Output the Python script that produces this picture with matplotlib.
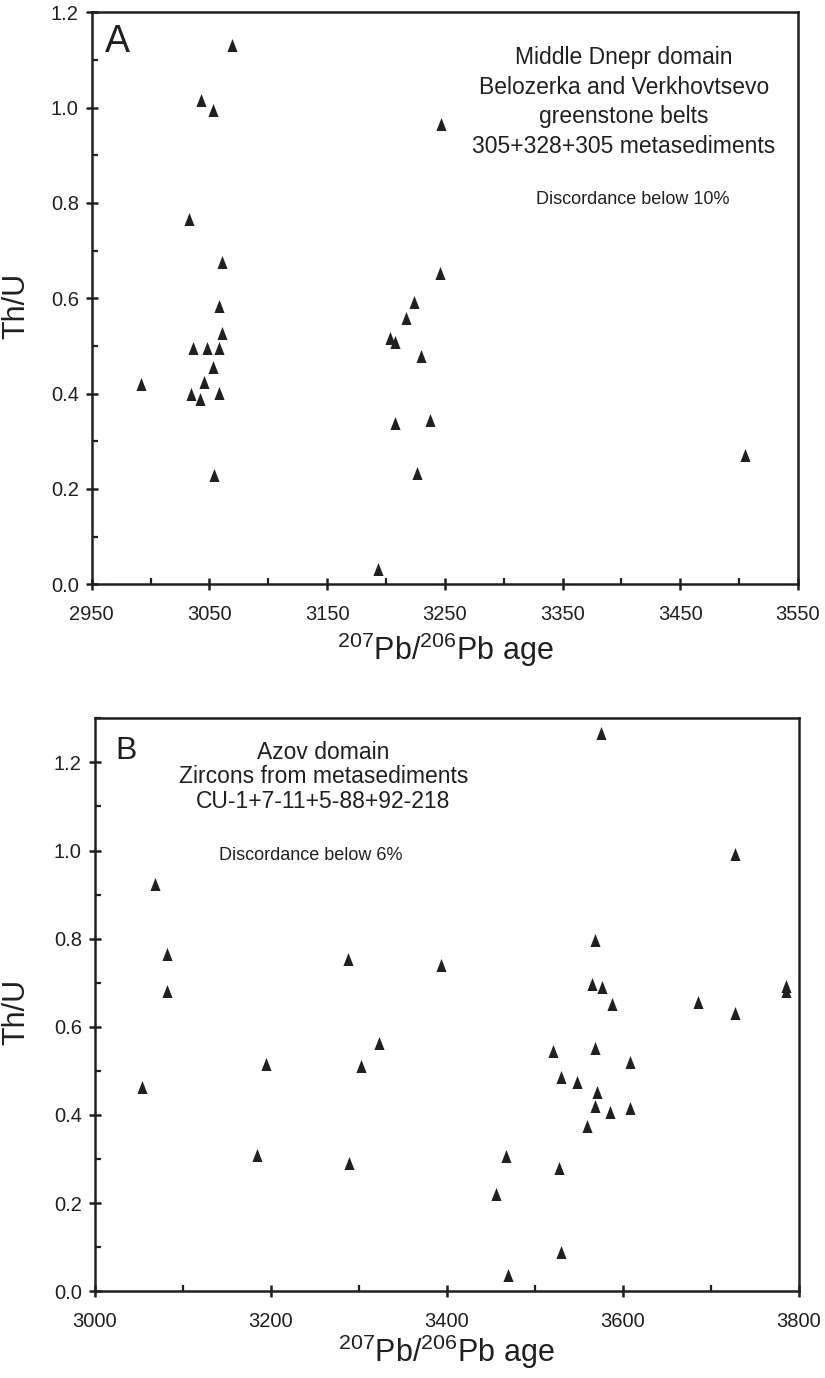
import matplotlib
matplotlib.use("Agg")
import matplotlib.pyplot as plt
from matplotlib.ticker import MultipleLocator, FormatStrFormatter

plt.rcParams['font.family'] = ['Liberation Sans', 'DejaVu Sans']
plt.rcParams['mathtext.fontset'] = 'custom'
plt.rcParams['mathtext.rm'] = 'Liberation Sans'
plt.rcParams['mathtext.it'] = 'Liberation Sans'
plt.rcParams['mathtext.bf'] = 'Liberation Sans'

INK = '#231f20'

# ---------------- Panel A data ----------------
a_age = [3069, 3043, 3053, 3247, 3033, 3061, 3246,
         2992, 3034, 3042, 3036, 3048, 3045, 3053, 3058, 3061, 3058, 3058, 3054,
         3193, 3203, 3208, 3208, 3217, 3224, 3230, 3237, 3226, 3505]
a_thu = [1.132, 1.015, 0.996, 0.965, 0.767, 0.676, 0.653,
         0.420, 0.399, 0.388, 0.495, 0.495, 0.425, 0.455, 0.584, 0.528, 0.495, 0.402, 0.230,
         0.032, 0.516, 0.509, 0.338, 0.558, 0.592, 0.478, 0.344, 0.234, 0.272]

# ---------------- Panel B data ----------------
b_age = [3069, 3082, 3082, 3288, 3394, 3575, 3728, 3568, 3565, 3577, 3588,
         3786, 3786, 3686, 3728, 3521, 3568, 3608, 3530, 3548, 3571, 3568, 3586,
         3608, 3560, 3468, 3528, 3456, 3530, 3470,
         3054, 3195, 3184, 3289, 3303, 3323]
b_thu = [0.925, 0.766, 0.681, 0.753, 0.740, 1.266, 0.993, 0.796, 0.698, 0.690, 0.651,
         0.693, 0.681, 0.657, 0.631, 0.544, 0.552, 0.521, 0.487, 0.474, 0.451, 0.420, 0.406,
         0.415, 0.374, 0.307, 0.280, 0.221, 0.089, 0.037,
         0.464, 0.516, 0.308, 0.292, 0.510, 0.563]

a_xticks = [2950, 3050, 3150, 3250, 3350, 3450, 3550]
b_xticks = [3000, 3200, 3400, 3600, 3800]

a_title = ["Middle Dnepr domain", "Belozerka and Verkhovtsevo",
           "greenstone belts", "305+328+305 metasediments"]
a_note = "Discordance below 10%"
b_title = ["Azov domain", "Zircons from metasediments", "CU-1+7-11+5-88+92-218"]
b_note = "Discordance below 6%"

xlabel = r'$^{207}$Pb/$^{206}$Pb age'
ylabel = 'Th/U'

tri = [(-0.39, -0.5), (0.39, -0.5), (0.0, 0.5)]

fig = plt.figure(figsize=(8.25, 13.78), dpi=100)
W, H = 825, 1378


def make_ax(x0, x1, ytop, ybot):
    return fig.add_axes([x0 / W, 1 - ybot / H, (x1 - x0) / W, (ybot - ytop) / H])


def style(ax, xlim, xmajor, xminor, ylim, ax_ylabel_x, ax_xlabel_y):
    ax.set_xlim(*xlim)
    ax.set_ylim(*ylim)
    ax.xaxis.set_major_locator(MultipleLocator(xmajor))
    ax.xaxis.set_minor_locator(MultipleLocator(xminor))
    ax.yaxis.set_major_locator(MultipleLocator(0.2))
    ax.yaxis.set_minor_locator(MultipleLocator(0.1))
    ax.yaxis.set_major_formatter(FormatStrFormatter('%.1f'))
    for s in ax.spines.values():
        s.set_linewidth(1.8)
        s.set_color(INK)
    ax.tick_params(which='major', direction='inout', length=8.5, width=1.8,
                   color=INK, labelsize=14.5, labelcolor=INK)
    ax.tick_params(which='minor', direction='in', length=4, width=1.6, color=INK)
    ax.tick_params(axis='x', which='major', pad=11)
    ax.tick_params(axis='y', which='major', pad=5)
    ax.set_xlabel(xlabel, fontsize=22, color=INK, va='center')
    ax.set_ylabel(ylabel, fontsize=22, color=INK)
    ax.xaxis.set_label_coords(0.5, ax_xlabel_y)
    ax.yaxis.set_label_coords(ax_ylabel_x, 0.487)


# ---------------- Panel A ----------------
axA = make_ax(91.7, 798.0, 12.3, 584.3)
style(axA, (2950, 3550), 100, 50, (0, 1.2), -0.085, -0.115)
axA.set_xticks(a_xticks)
axA.scatter(a_age, a_thu, marker=tri, s=13 ** 2 * 0.52, color=INK, linewidths=0, zorder=3,
            clip_on=False)
axA.text(0.0188, 0.931, "A", transform=axA.transAxes, fontsize=27, color=INK,
         ha='left', va='baseline')
for i, line in enumerate(a_title):
    axA.text(0.7537, 0.9096 - i * 0.0519, line, transform=axA.transAxes, fontsize=16.5,
             color=INK, ha='center', va='baseline')
axA.text(0.7665, 0.6649, a_note, transform=axA.transAxes, fontsize=13, color=INK,
         ha='center', va='baseline')

# ---------------- Panel B ----------------
axB = make_ax(94.6, 798.7, 718.3, 1291.2)
style(axB, (3000, 3800), 200, 100, (0, 1.3), -0.09, -0.106)
axB.set_xticks(b_xticks)
axB.scatter(b_age, b_thu, marker=tri, s=13 ** 2 * 0.52, color=INK, linewidths=0, zorder=3,
            clip_on=False)
axB.text(0.029, 0.9284, "B", transform=axB.transAxes, fontsize=23, color=INK,
         ha='left', va='baseline')
for i, line in enumerate(b_title):
    axB.text(0.3251, 0.9298 - i * 0.0428, line, transform=axB.transAxes, fontsize=16.5,
             color=INK, ha='center', va='baseline')
axB.text(0.3073, 0.7527, b_note, transform=axB.transAxes, fontsize=13, color=INK,
         ha='center', va='baseline')

fig.savefig("out.png", dpi=100)
